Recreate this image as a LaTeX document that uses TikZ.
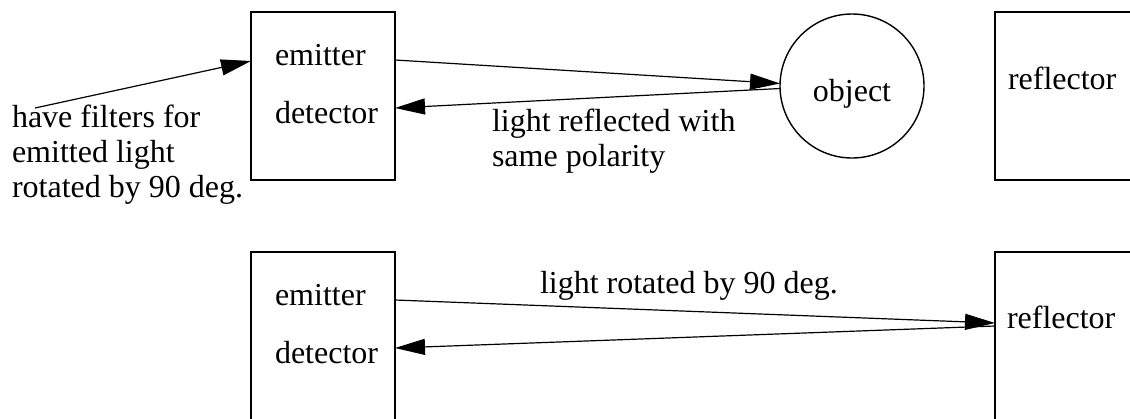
\documentclass[tikz,border=0pt]{standalone}
\usepackage{fontspec}
\setmainfont{Liberation Serif}
\usetikzlibrary{arrows.meta,calc}
\begin{document}
\begin{tikzpicture}[x=0.5pt,y=-0.5pt,
  box/.style={draw,line width=1.2pt,minimum width=72pt,minimum height=84pt,inner sep=0pt,outer sep=0pt},
  ball/.style={draw,circle,line width=0.7pt,minimum size=72pt,inner sep=0pt,outer sep=0pt},
  txt/.style={inner sep=0pt,outer sep=0pt,anchor=base west,font=\fontsize{16}{17.5}\selectfont},
  conn/.style={line width=0.6pt,-{Triangle[length=15pt,width=8pt]}}]
\clip (0,0) rectangle (1130,418);
% top row
\node[box] (e1) at (323,96) {};
\node[txt] (em1) at (275,65) {emitter};
\node[txt] (de1) at (275,123) {detector};
\node[ball] (obj) at (852,86) {};
\node[txt,anchor=base] (objt) at (852,101) {object};
\node[box] (r1) at (1067,96) {};
\node[txt] (rf1) at (1008,89) {reflector};
\node[txt] (filt) at (12,127) {\begin{tabular}[t]{@{}l@{}}have filters for\\emitted light\\rotated by 90 deg.\end{tabular}};
\node[txt] (lab1) at (492,131) {\begin{tabular}[t]{@{}l@{}}light reflected with\\same polarity\end{tabular}};
\coordinate (fs) at (35,108);
\draw[conn] (fs) -- ($(e1.north west)+(0,49)$);
\draw[conn] ($(e1.north east)+(0,48)$) -- (obj.178);
\draw[conn] (obj.182) -- ($(e1.north east)+(0,96)$);
% bottom row
\node[box] (e2) at (323,336) {};
\node[txt] (em2) at (275,305) {emitter};
\node[txt] (de2) at (275,363) {detector};
\node[box] (r2) at (1067,336) {};
\node[txt] (rf2) at (1007,328) {reflector};
\node[txt] (lab2) at (540,293) {light rotated by 90 deg.};
\draw[conn] ($(e2.north east)+(0,48)$) -- ($(r2.north west)+(0,71)$);
\draw[conn] ($(r2.north west)+(0,74)$) -- ($(e2.north east)+(0,96)$);
\end{tikzpicture}
\end{document}
